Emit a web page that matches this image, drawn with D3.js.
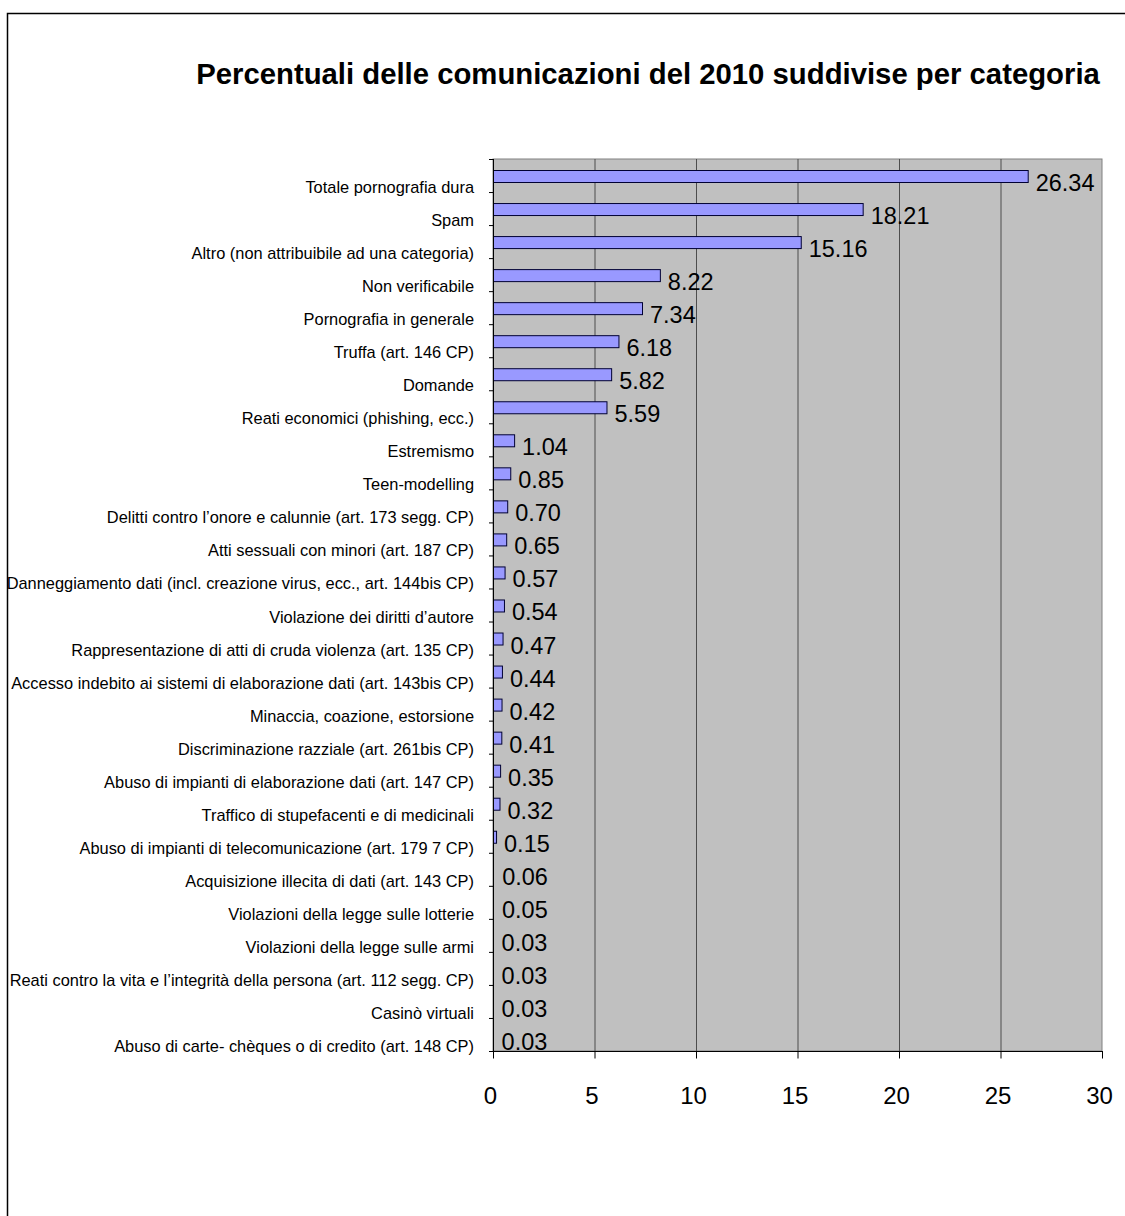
<!DOCTYPE html>
<html>
<head>
<meta charset="utf-8">
<script src="https://cdn.jsdelivr.net/npm/d3@7"></script>
<style>
  body { margin: 0; background: #fff; }
  svg { display: block; font-family: Arial, "Liberation Sans", sans-serif; }
</style>
</head>
<body>
<div id="chart"></div>
<script>
const categories = [
  "Totale pornografia dura",
  "Spam",
  "Altro (non attribuibile ad una categoria)",
  "Non verificabile",
  "Pornografia in generale",
  "Truffa (art. 146 CP)",
  "Domande",
  "Reati economici (phishing, ecc.)",
  "Estremismo",
  "Teen-modelling",
  "Delitti contro l’onore e calunnie (art. 173 segg. CP)",
  "Atti sessuali con minori (art. 187 CP)",
  "Danneggiamento dati (incl. creazione virus, ecc., art. 144bis CP)",
  "Violazione dei diritti d’autore",
  "Rappresentazione di atti di cruda violenza (art. 135 CP)",
  "Accesso indebito ai sistemi di elaborazione dati (art. 143bis CP)",
  "Minaccia, coazione, estorsione",
  "Discriminazione razziale (art. 261bis CP)",
  "Abuso di impianti di elaborazione dati (art. 147 CP)",
  "Traffico di stupefacenti e di medicinali",
  "Abuso di impianti di telecomunicazione (art. 179 7 CP)",
  "Acquisizione illecita di dati (art. 143 CP)",
  "Violazioni della legge sulle lotterie",
  "Violazioni della legge sulle armi",
  "Reati contro la vita e l’integrità della persona (art. 112 segg. CP)",
  "Casinò virtuali",
  "Abuso di carte- chèques o di credito (art. 148 CP)"
];
const values = [26.34, 18.21, 15.16, 8.22, 7.34, 6.18, 5.82, 5.59, 1.04, 0.85, 0.70, 0.65, 0.57, 0.54, 0.47, 0.44, 0.42, 0.41, 0.35, 0.32, 0.15, 0.06, 0.05, 0.03, 0.03, 0.03, 0.03];
const xTicks = [0, 5, 10, 15, 20, 25, 30];
const title = "Percentuali delle comunicazioni del 2010 suddivise per categoria";

const data = categories.map((c, i) => ({ cat: c, val: values[i] }));

const width = 1125, height = 1216;
const plot = { left: 493, right: 1102, top: 159, bottom: 1051 };

const svg = d3.select("#chart").append("svg")
  .attr("width", width)
  .attr("height", height);

// outer frame
svg.append("rect")
  .attr("x", 7.5).attr("y", 13.5)
  .attr("width", width).attr("height", height)
  .attr("fill", "#fff")
  .attr("stroke", "#000")
  .attr("stroke-width", 1.5);

// title
svg.append("text")
  .attr("x", 648)
  .attr("y", 84)
  .attr("text-anchor", "middle")
  .style("font-size", "29.3px")
  .style("font-weight", "bold")
  .text(title);

const x = d3.scaleLinear().domain([0, 30]).range([plot.left, plot.right]);
const y = d3.scaleBand().domain(categories).range([plot.top, plot.bottom]).padding(0);
const bw = y.bandwidth();

// plot background
svg.append("rect")
  .attr("x", plot.left).attr("y", plot.top)
  .attr("width", plot.right - plot.left).attr("height", plot.bottom - plot.top)
  .attr("fill", "#c0c0c0")
  .attr("stroke", "#808080");

// vertical gridlines
svg.append("g")
  .selectAll("line")
  .data(xTicks.slice(1, -1))
  .join("line")
  .attr("x1", d => x(d) + 0.5).attr("x2", d => x(d) + 0.5)
  .attr("y1", plot.top).attr("y2", plot.bottom)
  .attr("stroke", "#4d4d4d")
  .attr("stroke-width", 1);

// bars (tiny ones vanish into the axis like in the original)
svg.append("g")
  .selectAll("rect")
  .data(data)
  .join("rect")
  .attr("x", x(0) + 0.5)
  .attr("y", d => y(d.cat) + 11.5)
  .attr("width", d => Math.max(x(d.val) - x(0), 0))
  .attr("height", 12)
  .attr("fill", d => x(d.val) - x(0) > 2 ? "#9999ff" : "none")
  .attr("stroke", d => x(d.val) - x(0) > 2 ? "#000033" : "none")
  .attr("stroke-width", 1);

// value labels
svg.append("g")
  .selectAll("text")
  .data(data)
  .join("text")
  .attr("x", d => x(d.val) + 8)
  .attr("y", d => y(d.cat) + 32)
  .style("font-size", "23.5px")
  .text(d => d.val.toFixed(2));

// y axis line
const yAxis = d3.axisLeft(y).tickSize(0).tickFormat("");
svg.append("g")
  .attr("transform", `translate(${plot.left},0)`)
  .call(yAxis)
  .call(g => g.select(".domain").attr("stroke", "#000").attr("d", `M0.5,${plot.top}V${plot.bottom}`));

// y ticks at band boundaries
svg.append("g")
  .selectAll("line")
  .data(categories.concat(["__end"]))
  .join("line")
  .attr("x1", plot.left - 4).attr("x2", plot.left)
  .attr("y1", (d, i) => plot.top + i * bw + 0.5)
  .attr("y2", (d, i) => plot.top + i * bw + 0.5)
  .attr("stroke", "#000");

// category labels
svg.append("g")
  .selectAll("text")
  .data(data)
  .join("text")
  .attr("x", 474)
  .attr("y", d => y(d.cat) + bw + 1)
  .attr("text-anchor", "end")
  .style("font-size", "16.4px")
  .text(d => d.cat);

// x axis
const xAxis = d3.axisBottom(x).tickValues(xTicks).tickSize(7).tickPadding(28);
svg.append("g")
  .attr("transform", `translate(0,${plot.bottom + 0.5})`)
  .call(xAxis)
  .call(g => g.select(".domain").attr("stroke", "#000").attr("d", `M${plot.left},0H${plot.right + 1}`))
  .call(g => g.selectAll(".tick line").attr("stroke", "#000"))
  .call(g => g.selectAll(".tick text")
    .attr("fill", "#000")
    .attr("dx", "-3")
    .style("font-size", "24px")
    .style("font-family", "Arial, 'Liberation Sans', sans-serif"));
</script>
</body>
</html>
